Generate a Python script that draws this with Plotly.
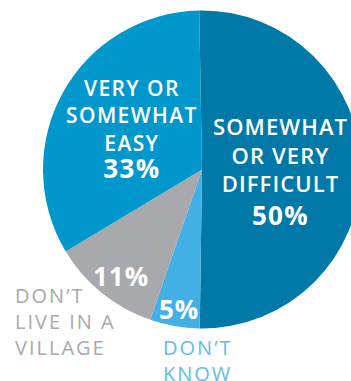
import plotly.graph_objects as go

# ---- data ----
categories = ["SOMEWHAT OR VERY DIFFICULT", "DON’T KNOW", "DON’T LIVE IN A VILLAGE", "VERY OR SOMEWHAT EASY"]
values = [50, 5, 11, 33]
label_lines = [
    ["SOMEWHAT", "OR VERY", "DIFFICULT"],
    ["DON’T", "KNOW"],
    ["DON’T", "LIVE IN A", "VILLAGE"],
    ["VERY OR", "SOMEWHAT", "EASY"],
]
colors = ["#0079A8", "#42B0E4", "#A7A9AC", "#0097CC"]

W, H = 372, 381
FONT = "Open Sans"


def px(x):
    return x / W


def py(y):
    return 1 - y / H


fig = go.Figure(
    go.Pie(
        labels=categories,
        values=values,
        sort=False,
        direction="clockwise",
        rotation=-1,
        marker=dict(colors=colors, line=dict(width=0)),
        textinfo="none",
        hoverinfo="label+percent",
        domain=dict(x=[px(43), px(361)], y=[py(329), py(10)]),
        showlegend=False,
    )
)

ann = []


def add(text, x, cap_top, size, color, weight, spacing, xanchor="center", align="center"):
    top = cap_top - (1 + 0.355 * size)
    ann.append(dict(
        text=f"<span style='letter-spacing:{spacing}px'>{text}</span>",
        x=px(x), y=py(top), xref="paper", yref="paper",
        xanchor=xanchor, yanchor="top", align=align, showarrow=False,
        font=dict(family=FONT, size=size, color=color, weight=weight),
    ))


# inside labels
easy_text = "<br>".join(label_lines[3]) + f"<br><span style='font-size:26px;font-weight:700'>{values[3]}%</span>"
add(easy_text, 132, 80, 21, "white", 600, 1.4)
add("<br>".join(label_lines[0]), 280, 118, 22, "white", 600, 1.1)
add(f"{values[0]}%", 280, 205, 26, "white", 700, 1.2)
add(f"{values[2]}%", 121, 266, 26, "white", 700, 1.0)
add(f"{values[1]}%", 179, 299, 26, "white", 700, 1.0)
# outside labels
add("<br>".join(label_lines[2]), 13, 288, 20, "#A7A9AC", 400, 2.0, xanchor="left", align="left")
add("<br>".join(label_lines[1]), 161, 340, 20, "#62BBE8", 400, 2.0, xanchor="left", align="left")

fig.update_layout(
    width=W, height=H,
    margin=dict(l=0, r=0, t=0, b=0),
    paper_bgcolor="white", plot_bgcolor="white",
    annotations=ann,
)

fig.write_html(
    "out.html",
    config={"displayModeBar": False},
    post_script="document.documentElement.style.overflow='hidden';document.body.style.overflow='hidden';document.body.style.margin='0';",
)
